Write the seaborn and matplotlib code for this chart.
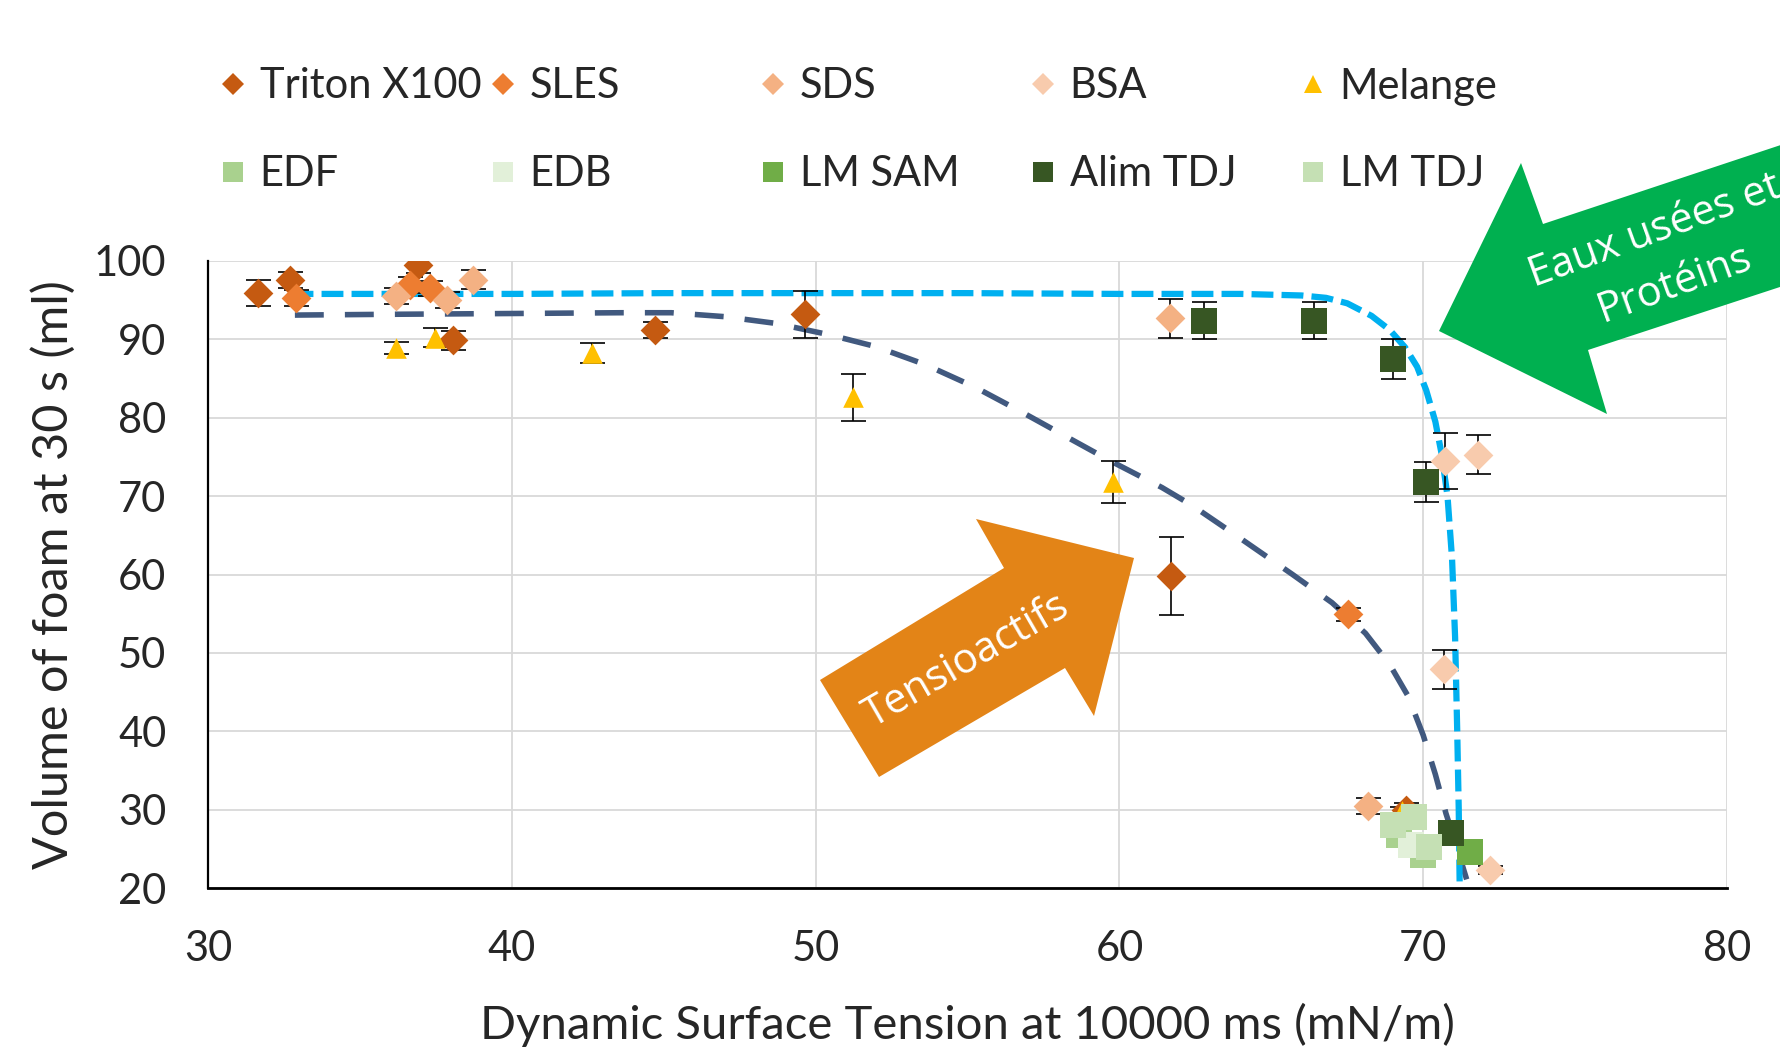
import numpy as np
import matplotlib
matplotlib.use("Agg")
import matplotlib.pyplot as plt
import seaborn as sns
from matplotlib.lines import Line2D
from matplotlib.patches import Polygon

# ---------------- data ----------------
triton_x = [31.66, 32.7, 36.9, 38.07, 44.7, 49.66, 61.69, 69.45]
triton_y = [95.9, 97.6, 99.5, 89.9, 91.2, 93.2, 59.8, 30.0]
triton_e = [1.7, 1.0, 1.0, 1.2, 1.0, 3.0, 5.0, 0.8]

sles_x = [32.9, 36.65, 37.3, 67.52]
sles_y = [95.3, 96.9, 96.5, 54.9]
sles_e = [1.0, 1.0, 1.0, 0.8]

sds_x = [36.2, 37.86, 38.73, 61.65, 68.19]
sds_y = [95.5, 95.0, 97.6, 92.7, 30.5]
sds_e = [1.0, 1.0, 1.2, 2.5, 1.0]

bsa_x = [70.71, 71.8, 70.69, 72.2]
bsa_y = [74.5, 75.3, 47.9, 22.3]
bsa_e = [3.6, 2.5, 2.5, 0.5]

melange_x = [36.2, 37.47, 42.63, 51.23, 59.8, 69.3]
melange_y = [88.9, 90.2, 88.3, 82.6, 71.8, 29.8]
melange_e = [0.8, 1.2, 1.3, 3.0, 2.7, 0.5]

edf_x = [69.2, 70.0]
edf_y = [26.8, 24.2]
edf_e = [0.5, 0.5]

edb_x = [69.6]
edb_y = [25.5]
edb_e = [0.5]

lmsam_x = [71.55]
lmsam_y = [24.6]
lmsam_e = [0.5]

alim_x = [62.8, 66.39, 69.01, 70.1, 70.9]
alim_y = [92.4, 92.4, 87.5, 71.8, 27.0]
alim_e = [2.4, 2.4, 2.5, 2.6, 1.0]

lmtdj_x = [69.0, 69.7, 70.2]
lmtdj_y = [28.0, 29.0, 25.2]
lmtdj_e = [0.5, 0.5, 0.5]

# trend curves
curve_light_x = [32.75, 35, 40, 45, 50, 55, 60, 64, 66.0, 66.8, 67.5, 68.3, 68.9,
                 69.4, 69.8, 70.1, 70.4, 70.6, 70.8, 70.95, 71.05, 71.12, 71.17, 71.2]
curve_light_y = [95.8, 95.8, 95.8, 95.9, 95.9, 95.9, 95.8, 95.8, 95.6, 95.3, 94.6,
                 93.0, 91.2, 89.0, 86.5, 83.5, 79.5, 75.5, 70.0, 62.0, 52.0, 40.0,
                 30.0, 20.5]
curve_dark_x = [32.86, 36, 40, 43.6, 45.25, 47.0, 48.67, 50.44, 51.96, 53.6, 55.25,
                56.8, 58.2, 59.7, 61.4, 62.4, 63.8, 65.7, 67.0, 68.1, 68.9, 69.5,
                70.0, 70.4, 70.75, 71.1, 71.43]
curve_dark_y = [93.1, 93.2, 93.3, 93.4, 93.4, 92.9, 92.05, 90.6, 89.1, 86.8, 83.9,
                80.7, 77.7, 74.5, 71.1, 68.8, 65.1, 60.0, 56.4, 52.5, 48.5, 44.5,
                39.5, 34.5, 29.5, 25.3, 21.1]

x_ticks = [30, 40, 50, 60, 70, 80]
y_ticks = [20, 30, 40, 50, 60, 70, 80, 90, 100]

x_label = "Dynamic Surface Tension at 10000 ms (mN/m)"
y_label = "Volume of foam at 30 s (ml)"

series = [
    ("Triton X100", triton_x, triton_y, triton_e, "D", "#C55A11"),
    ("SLES", sles_x, sles_y, sles_e, "D", "#ED7D31"),
    ("SDS", sds_x, sds_y, sds_e, "D", "#F4B183"),
    ("BSA", bsa_x, bsa_y, bsa_e, "D", "#F8CBAD"),
    ("Melange", melange_x, melange_y, melange_e, "^", "#FFC000"),
    ("EDF", edf_x, edf_y, edf_e, "s", "#A9D18E"),
    ("EDB", edb_x, edb_y, edb_e, "s", "#E2F0D9"),
    ("LM SAM", lmsam_x, lmsam_y, lmsam_e, "s", "#70AD47"),
    ("Alim TDJ", alim_x, alim_y, alim_e, "s", "#375623"),
    ("LM TDJ", lmtdj_x, lmtdj_y, lmtdj_e, "s", "#C5E0B4"),
]

# ---------------- styling ----------------
sns.set_style("white")
plt.rcParams['font.family'] = ['Lato', 'DejaVu Sans']
TXT = "#262626"

W, H = 1780, 1059
fig = plt.figure(figsize=(W / 100, H / 100), dpi=100)
ax = fig.add_axes([208 / W, 1 - 888 / H, (1727 - 208) / W, (888 - 261) / H])

# curves
sns.lineplot(x=curve_dark_x, y=curve_dark_y, sort=False, estimator=None, ax=ax,
             color="#41597F", linewidth=4.0, linestyle=(0, (5.2, 3.8)), zorder=3)
sns.lineplot(x=curve_light_x, y=curve_light_y, sort=False, estimator=None, ax=ax,
             color="#00B0F0", linewidth=4.5, linestyle=(0, (3.5, 1.3)), zorder=3.2)

sizes = {"D": 230, "^": 220, "s": 330}
for name, xs, ys, es, m, c in series:
    ax.errorbar(xs, ys, yerr=es, fmt="none", ecolor="black", elinewidth=1.2,
                capsize=9, capthick=1.2, zorder=3.5)
    sns.scatterplot(x=xs, y=ys, marker=m, s=sizes[m], color=c, edgecolor=c,
                    linewidth=0, ax=ax, zorder=4, legend=False)

ax.set_xlim(30, 80)
ax.set_ylim(20, 100)
ax.set_xticks(x_ticks)
ax.set_yticks(y_ticks)
ax.tick_params(length=0, labelsize=30, colors=TXT)
ax.tick_params(axis="x", pad=30)
ax.tick_params(axis="y", pad=30)
ax.grid(True, color="#D9D9D9", linewidth=1.3)
ax.set_axisbelow(True)
for s in ["top", "right"]:
    ax.spines[s].set_visible(False)
ax.spines["left"].set_color("black")
ax.spines["left"].set_linewidth(1.6)
ax.spines["bottom"].set_color("black")
ax.spines["bottom"].set_linewidth(2.0)
ax.set_xlabel(x_label, fontsize=34, color=TXT)
ax.set_ylabel(y_label, fontsize=35, color=TXT)
ax.xaxis.set_label_coords(0.5, -0.183)
ax.yaxis.set_label_coords(-0.087, 0.5)

# legend: 5 columns x 2 rows
ms = {"D": 11, "^": 13, "s": 14}
lookup = {s[0]: s for s in series}
columns = [("Triton X100", "EDF"), ("SLES", "EDB"), ("SDS", "LM SAM"),
           ("BSA", "Alim TDJ"), ("Melange", "LM TDJ")]
for i, col in enumerate(columns):
    handles = []
    for lab in col:
        _, _, _, _, m, c = lookup[lab]
        handles.append(Line2D([], [], marker=m, color=c, linestyle="None",
                              markersize=ms[m], markeredgewidth=0))
    mx = 233 + i * 270
    leg = fig.legend(handles=handles, labels=list(col), loc="center left",
                     bbox_to_anchor=((mx - 13) / W, 1 - 130.5 / H), frameon=False,
                     fontsize=30, handlelength=0.6, handletextpad=0.35,
                     labelspacing=1.2, borderpad=0, borderaxespad=0)
    for t in leg.get_texts():
        t.set_color(TXT)

# annotation arrows (figure pixel coords, y from top)
def to_fig(pts):
    return [(x / W, 1 - y / H) for x, y in pts]

orange_pts = [(1134, 558), (976, 519), (1004, 568), (820, 680), (879, 777),
              (1065, 668), (1094, 716)]
green_pts = [(1439, 331), (1521, 163), (1543, 224), (1850, 122), (1850, 264),
             (1588, 350), (1607, 414)]
fig.add_artist(Polygon(to_fig(orange_pts), closed=True, transform=fig.transFigure,
                       facecolor="#E38417", edgecolor="none", zorder=6))
fig.add_artist(Polygon(to_fig(green_pts), closed=True, transform=fig.transFigure,
                       facecolor="#00B050", edgecolor="none", zorder=6))
fig.text(967 / W, 1 - 661 / H, "Tensioactifs", color="white", fontsize=30,
         family=["Open Sans", "DejaVu Sans"], rotation=30, ha="center", va="center",
         rotation_mode="anchor", zorder=7)
fig.text(1665 / W, 1 - 258 / H, "Eaux usées et\nProtéins", color="white", fontsize=30,
         family=["Open Sans", "DejaVu Sans"], rotation=20, ha="center", va="center",
         multialignment="center", linespacing=1.45, rotation_mode="anchor", zorder=7)

fig.savefig("out.png", dpi=100, facecolor="white")
